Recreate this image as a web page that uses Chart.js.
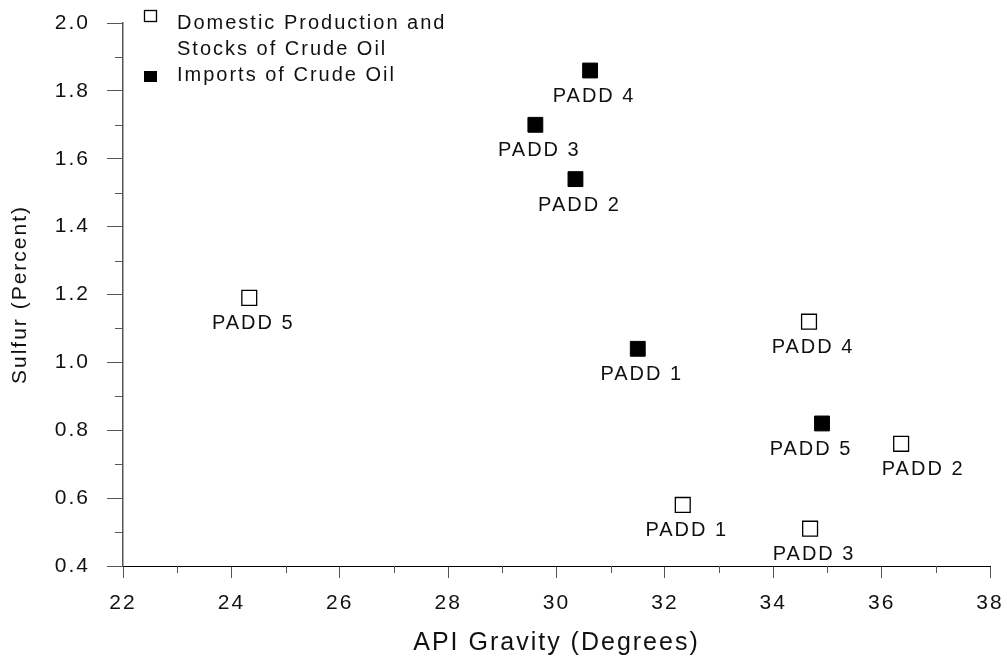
<!DOCTYPE html>
<html><head><meta charset="utf-8">
<script src="https://cdn.jsdelivr.net/npm/chart.js@4"></script>
<style>html,body{margin:0;padding:0;background:#fff}#wrap{width:1007px;height:660px;position:relative}</style>
</head><body><div id="wrap"><canvas id="c"></canvas></div>
<script>
// ---- data ----
const xTicks = [22, 24, 26, 28, 30, 32, 34, 36, 38];
const yTicks = [0.4, 0.6, 0.8, 1.0, 1.2, 1.4, 1.6, 1.8, 2.0];
const seriesNames = [['Domestic Production and', 'Stocks of Crude Oil'], ['Imports of Crude Oil']];
const domesticLabels = ['PADD 1', 'PADD 2', 'PADD 3', 'PADD 4', 'PADD 5'];
const domesticGravity = [32.33, 36.36, 34.68, 34.66, 24.33];
const domesticSulfur = [0.58, 0.76, 0.51, 1.12, 1.19];
const importLabels = ['PADD 1', 'PADD 2', 'PADD 3', 'PADD 4', 'PADD 5'];
const importGravity = [31.50, 30.35, 29.61, 30.62, 34.90];
const importSulfur = [1.04, 1.54, 1.70, 1.86, 0.82];

// ---- styles ----
const FONT = 'Liberation Sans, Arial, sans-serif';
const SPACING = '2px';
const labelDx = { 'd1': 18, 'i4': -15 }; // label nudges by dataset/index key
function pts(xs, ys) { return xs.map((x, i) => ({ x: x, y: ys[i] })); }

const spacingPlugin = {
  id: 'spacing',
  beforeUpdate(c) { c.ctx.letterSpacing = SPACING; },
  beforeLayout(c) { c.ctx.letterSpacing = SPACING; },
  beforeDraw(c) { c.ctx.letterSpacing = SPACING; }
};

const minorTicks = {
  id: 'minorTicks',
  afterDraw(c) {
    const ctx = c.ctx, xs = c.scales.x, ys = c.scales.y;
    ctx.save();
    ctx.strokeStyle = '#555';
    ctx.lineWidth = 1;
    ctx.beginPath();
    for (let i = 0; i < xTicks.length - 1; i++) {
      const px = Math.round(xs.getPixelForValue((xTicks[i] + xTicks[i + 1]) / 2)) + 0.5;
      ctx.moveTo(px, xs.top); ctx.lineTo(px, xs.top + 7);
    }
    for (let i = 0; i < yTicks.length - 1; i++) {
      const py = Math.round(ys.getPixelForValue((yTicks[i] + yTicks[i + 1]) / 2)) + 0.5;
      ctx.moveTo(ys.right - 8, py); ctx.lineTo(ys.right, py);
    }
    ctx.stroke();
    ctx.restore();
  }
};

const pointLabels = {
  id: 'pointLabels',
  afterDatasetsDraw(c) {
    const ctx = c.ctx;
    const lists = [domesticLabels, importLabels];
    ctx.save();
    ctx.letterSpacing = SPACING;
    ctx.font = '20px ' + FONT;
    ctx.fillStyle = '#111';
    ctx.textAlign = 'center';
    ctx.textBaseline = 'middle';
    c.data.datasets.forEach((ds, di) => {
      c.getDatasetMeta(di).data.forEach((el, i) => {
        const key = (di === 0 ? 'd' : 'i') + i;
        const dx = 4 + (labelDx[key] || 0);
        ctx.fillText(lists[di][i], el.x + dx, el.y + 26);
      });
    });
    ctx.restore();
  }
};

const legendPlugin = {
  id: 'customLegend',
  afterDraw(c) {
    const ctx = c.ctx;
    ctx.save();
    ctx.letterSpacing = SPACING;
    ctx.font = '20px ' + FONT;
    ctx.textAlign = 'left';
    ctx.textBaseline = 'middle';
    ctx.fillStyle = '#fff';
    ctx.strokeStyle = '#000';
    ctx.lineWidth = 1.3;
    ctx.fillRect(144.5, 10.5, 12, 11);
    ctx.strokeRect(144.5, 10.5, 12, 11);
    ctx.fillStyle = '#000';
    ctx.fillRect(144, 71, 13, 11);
    ctx.fillStyle = '#111';
    ctx.fillText(seriesNames[0][0], 177, 23);
    ctx.fillText(seriesNames[0][1], 177, 49);
    ctx.fillText(seriesNames[1][0], 177, 75);
    ctx.restore();
  }
};

new Chart(document.getElementById('c'), {
  type: 'scatter',
  data: {
    datasets: [
      {
        label: seriesNames[0].join(' '),
        data: pts(domesticGravity, domesticSulfur),
        pointStyle: 'rect', pointRadius: 10.5, pointHoverRadius: 10.5,
        backgroundColor: '#fff', borderColor: '#000', borderWidth: 1.3
      },
      {
        label: seriesNames[1][0],
        data: pts(importGravity, importSulfur),
        pointStyle: 'rect', pointRadius: 10.5, pointHoverRadius: 10.5,
        backgroundColor: '#000', borderColor: '#000', borderWidth: 1
      }
    ]
  },
  options: {
    responsive: true,
    maintainAspectRatio: false,
    animation: false,
    events: [],
    layout: { autoPadding: false, padding: { left: 0, right: 17, top: 23, bottom: 0 } },
    plugins: { legend: { display: false }, tooltip: { enabled: false } },
    scales: {
      x: {
        type: 'linear', min: 22, max: 38,
        afterBuildTicks: s => { s.ticks = xTicks.map(v => ({ value: v })); },
        afterFit: s => { s.height = 94; s.paddingLeft = 0; s.paddingRight = 0; },
        grid: { drawOnChartArea: false, drawTicks: true, tickLength: 12, color: '#555' },
        border: { display: true, color: '#000', width: 1 },
        ticks: { color: '#111', font: { family: FONT, size: 21 }, padding: 13, maxRotation: 0, callback: v => String(v) },
        title: { display: true, text: 'API Gravity (Degrees)', color: '#111', font: { family: FONT, size: 25 }, padding: { top: 0, bottom: 2 } }
      },
      y: {
        type: 'linear', min: 0.4, max: 2.0,
        afterBuildTicks: s => { s.ticks = yTicks.map(v => ({ value: v })); },
        afterFit: s => { s.width = 123; s.paddingTop = 0; s.paddingBottom = 0; },
        grid: { drawOnChartArea: false, drawTicks: true, tickLength: 16, color: '#555' },
        border: { display: true, color: '#555', width: 1.5 },
        ticks: { color: '#111', font: { family: FONT, size: 21 }, padding: 17, callback: v => Number(v).toFixed(1) },
        title: { display: true, text: 'Sulfur (Percent)', color: '#111', font: { family: FONT, size: 21 }, padding: { top: 8, bottom: 0 } }
      }
    }
  },
  plugins: [spacingPlugin, minorTicks, pointLabels, legendPlugin]
});
</script>
</body></html>
